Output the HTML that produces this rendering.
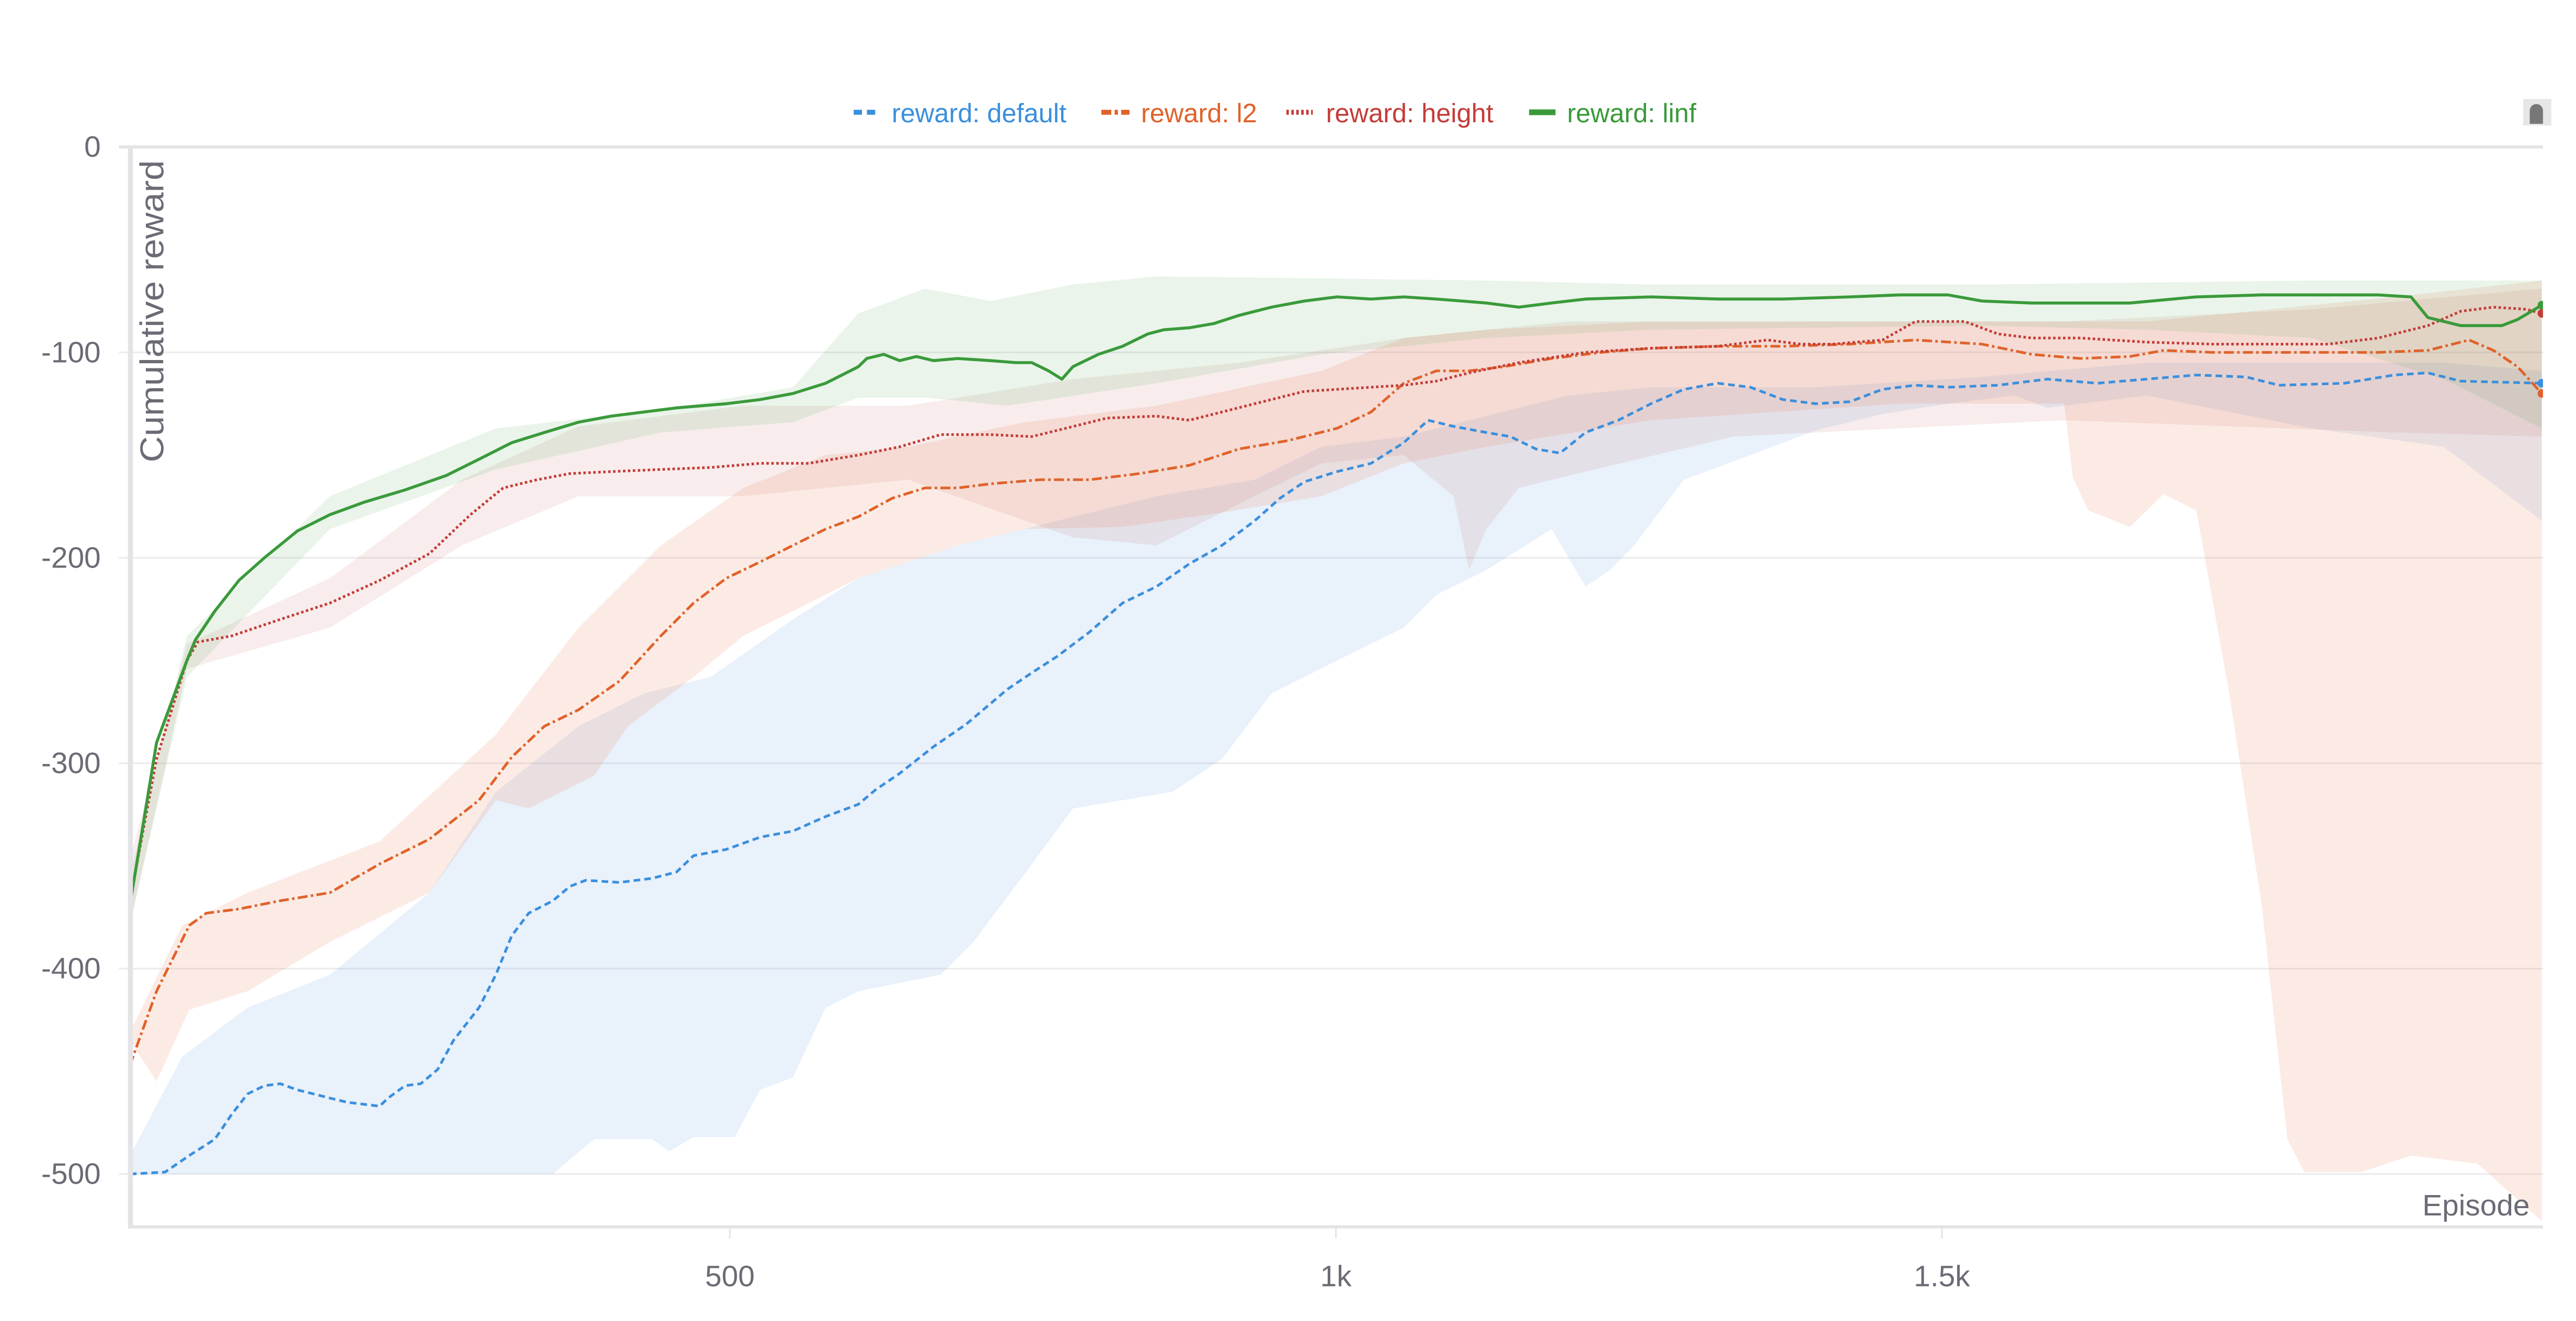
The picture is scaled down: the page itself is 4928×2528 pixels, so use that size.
<!DOCTYPE html>
<html><head><meta charset="utf-8">
<style>
html,body{margin:0;padding:0;background:#fff;}
svg{display:block;}
text{font-family:"Liberation Sans",sans-serif;}
</style></head>
<body>
<svg id="chart" width="4928" height="2528" viewBox="0 0 1560 800" preserveAspectRatio="none" xmlns="http://www.w3.org/2000/svg">
<defs><clipPath id="plotclip"><rect x="79" y="80" width="1461" height="663"/></clipPath></defs>
<g id="grid"></g>
<g id="bands" clip-path="url(#plotclip)"></g>
<g id="lines" clip-path="url(#plotclip)"></g>
<g id="axes"></g>
<g font-size="16">
  <g><line x1="517" y1="68" x2="533" y2="68" stroke="#3b8fdd" stroke-width="3" stroke-dasharray="5,3"/><text x="540" y="74" fill="#3b8fdd">reward: default</text></g>
  <g><line x1="667" y1="68" x2="684" y2="68" stroke="#e0622a" stroke-width="3" stroke-dasharray="6,2,2,2"/><text x="691" y="74" fill="#e0622a">reward: l2</text></g>
  <g><line x1="779" y1="68" x2="795" y2="68" stroke="#c43c39" stroke-width="3" stroke-dasharray="1.5,1.5"/><text x="803" y="74" fill="#c43c39">reward: height</text></g>
  <g><line x1="926" y1="68" x2="942" y2="68" stroke="#3a9a3a" stroke-width="3.5"/><text x="949" y="74" fill="#3a9a3a">reward: linf</text></g>
</g>
<g><rect x="1528" y="60" width="17" height="16" fill="#e6e6e6"/><path d="M1532 75 v-8 a4 4 0 0 1 8 0 v8 z" fill="#777"/></g>
<text transform="translate(99,280) rotate(-90)" font-size="20" textLength="183" lengthAdjust="spacingAndGlyphs" fill="#6b6b76">Cumulative reward</text>
<text x="1532" y="736" text-anchor="end" font-size="18" fill="#6b6b76">Episode</text>
</svg>
<script>
const yTicks=[0,-100,-200,-300,-400,-500];
const yTickLabels=["0","-100","-200","-300","-400","-500"];
const xTicks=[500,1000,1500];
const xTickLabels=["500","1k","1.5k"];
const seriesNames=["default","l2","height","linf"];

const defaultEp=[5,34,54,75,89,102,116,129,143,170,184,211,218,232,245,259,272,293,307,320,334,354,368,381,409,436,456,470,497,525,552,579,606,620,640,668,695,729,749,770,797,824,852,879,906,933,954,974,1001,1029,1056,1076,1097,1124,1144,1165,1185,1206,1233,1260,1287,1315,1342,1369,1396,1424,1451,1478,1505,1546,1587,1628,1669,1710,1751,1778,1832,1873,1901,1928,1995];
const defaultVal=[-500,-499,-491,-483,-471,-461,-457,-456,-459,-463,-465,-467,-463,-457,-456,-449,-435,-419,-403,-384,-373,-367,-360,-357,-358,-356,-353,-345,-342,-336,-333,-326,-320,-313,-305,-292,-281,-264,-256,-248,-236,-222,-214,-203,-194,-182,-171,-163,-158,-154,-144,-133,-136,-139,-141,-147,-149,-139,-133,-125,-118,-115,-117,-123,-125,-124,-118,-116,-117,-116,-113,-115,-113,-111,-112,-116,-115,-111,-110,-114,-115];

const l2Ep=[5,27,54,68,95,129,170,211,252,293,320,347,375,409,443,470,497,525,552,579,606,634,661,688,715,756,797,838,879,920,960,1001,1029,1056,1083,1110,1138,1178,1219,1260,1315,1369,1424,1478,1533,1574,1614,1655,1683,1723,1764,1805,1860,1901,1935,1955,1975,1995];
const l2Val=[-447,-411,-379,-373,-371,-367,-363,-349,-337,-318,-297,-282,-274,-260,-238,-222,-210,-202,-194,-186,-180,-171,-166,-166,-164,-162,-162,-159,-155,-147,-143,-137,-129,-115,-109,-109,-107,-103,-100,-98,-97,-97,-96,-94,-96,-101,-103,-102,-99,-100,-100,-100,-100,-99,-94,-99,-107,-120];

const heightEp=[5,27,52,61,89,129,170,211,252,286,313,341,368,402,443,484,525,565,606,640,674,715,749,777,811,852,879,906,933,974,1001,1029,1056,1083,1110,1151,1206,1260,1315,1356,1383,1410,1451,1478,1519,1546,1574,1614,1669,1723,1764,1819,1860,1901,1928,1955,1982,1995];
const heightVal=[-367,-298,-250,-241,-238,-230,-222,-211,-198,-179,-166,-162,-159,-158,-157,-156,-154,-154,-150,-146,-140,-140,-141,-137,-132,-131,-133,-129,-125,-119,-118,-117,-116,-114,-110,-105,-100,-98,-97,-94,-96,-96,-94,-85,-85,-91,-93,-93,-95,-96,-96,-96,-93,-87,-80,-78,-79,-81];

const linfEp=[5,27,52,59,75,95,116,143,170,198,232,266,293,320,347,375,402,429,456,497,525,552,579,606,613,627,640,654,668,688,715,736,749,763,774,783,804,824,845,858,879,899,920,947,974,1001,1029,1056,1083,1104,1124,1151,1178,1206,1260,1315,1369,1424,1465,1505,1533,1574,1614,1655,1710,1764,1805,1860,1887,1901,1928,1962,1975,1995];
const linfVal=[-369,-290,-250,-240,-226,-211,-200,-187,-179,-173,-167,-160,-152,-144,-139,-134,-131,-129,-127,-125,-123,-120,-115,-107,-103,-101,-104,-102,-104,-103,-104,-105,-105,-109,-113,-107,-101,-97,-91,-89,-88,-86,-82,-78,-75,-73,-74,-73,-74,-75,-76,-78,-76,-74,-73,-74,-74,-73,-72,-72,-75,-76,-76,-76,-73,-72,-72,-72,-73,-83,-87,-87,-84,-77];

const defaultUpEp=[5,48,102,170,252,307,375,429,484,552,606,688,770,852,933,988,1056,1124,1192,1260,1396,1533,1669,1805,1914,1995];
const defaultUp=[-491,-443,-419,-403,-363,-314,-282,-266,-258,-230,-210,-194,-182,-170,-162,-146,-141,-131,-121,-117,-117,-112,-105,-105,-105,-109];
const defaultLoEp=[5,354,388,436,450,470,504,525,552,579,606,640,674,701,743,783,824,865,906,947,1001,1056,1083,1124,1178,1206,1226,1246,1287,1342,1396,1451,1505,1560,1587,1669,1805,1914,1995];
const defaultLo=[-500,-500,-483,-483,-489,-482,-482,-459,-453,-419,-411,-407,-403,-387,-354,-322,-318,-314,-298,-266,-250,-234,-218,-206,-186,-214,-206,-194,-162,-150,-138,-130,-125,-121,-127,-121,-137,-146,-182];

const l2UpEp=[5,48,102,211,307,375,443,511,579,647,743,852,988,1056,1124,1260,1465,1669,1874,1995];
const l2Up=[-431,-379,-363,-338,-286,-234,-194,-166,-150,-146,-134,-126,-109,-93,-89,-85,-85,-85,-73,-65];
const l2LoEp=[5,27,54,102,170,252,307,334,388,416,470,511,552,606,688,743,824,906,988,1056,1124,1260,1465,1601,1608,1621,1655,1683,1710,1737,1764,1785,1799,1846,1887,1942,1995];
const l2Lo=[-435,-455,-420,-411,-387,-363,-318,-322,-306,-282,-258,-238,-226,-210,-194,-186,-185,-178,-170,-154,-146,-133,-125,-125,-161,-177,-185,-169,-177,-266,-370,-483,-499,-499,-491,-495,-523];

const heightUpEp=[5,52,170,279,375,511,647,783,920,1056,1192,1396,1601,1805,1995];
const heightUp=[-347,-242,-210,-162,-136,-126,-126,-113,-105,-93,-85,-85,-85,-79,-69];
const heightLoEp=[5,52,170,279,375,511,647,783,852,933,988,1056,1097,1110,1124,1151,1206,1328,1465,1601,1737,1874,1995];
const heightLo=[-379,-254,-234,-194,-170,-170,-162,-190,-194,-170,-154,-150,-170,-206,-186,-166,-158,-141,-137,-133,-136,-139,-141];

const linfUpEp=[5,52,170,307,443,552,606,661,715,783,852,988,1124,1260,1533,1805,1995];
const linfUp=[-355,-238,-170,-137,-128,-117,-81,-69,-75,-67,-63,-64,-65,-67,-67,-65,-65];
const linfLoEp=[5,52,170,307,443,552,606,661,729,852,988,1124,1260,1533,1669,1805,1914,1995];
const linfLo=[-378,-258,-186,-157,-139,-134,-122,-122,-126,-115,-101,-93,-89,-87,-89,-93,-113,-137];

const NS="http://www.w3.org/2000/svg";
function xScale(e){return 75+e*0.734;}
function yScale(r){return 89-r*1.244;}
function mk(tag,attrs,parent){const el=document.createElementNS(NS,tag);for(const k in attrs)el.setAttribute(k,attrs[k]);parent.appendChild(el);return el;}
const grid=document.getElementById('grid'),axes=document.getElementById('axes'),bands=document.getElementById('bands'),lines=document.getElementById('lines');

yTicks.forEach((v,i)=>{
  const y=yScale(v);
  const gl=mk('line',{x1:72,x2:1540,y1:y,y2:y,stroke:i===0?'#e4e4e6':'#ececee','stroke-width':i===0?2:1},grid);
  
  
  const t=mk('text',{x:61,y:y+6,'text-anchor':'end','font-size':18,fill:'#6b6b76'},axes);
  t.textContent=yTickLabels[i];
  
  
});
const ya=mk('line',{x1:79,x2:79,y1:89,y2:744,stroke:'#e4e4e6','stroke-width':3},axes);


const xa=mk('line',{x1:78,x2:1540,y1:743,y2:743,stroke:'#e4e4e6','stroke-width':2},axes);


xTicks.forEach((v,i)=>{
  const x=xScale(v);
  const tk=mk('line',{x1:x,x2:x,y1:743,y2:750,stroke:'#e4e4e6','stroke-width':1},axes);
  
  
  const t=mk('text',{x:x,y:779,'text-anchor':'middle','font-size':18,fill:'#6b6b76'},axes);
  t.textContent=xTickLabels[i];
  
  
});

function linePts(ep,val){return ep.map((e,i)=>xScale(e).toFixed(1)+','+yScale(val[i]).toFixed(1));}
function drawBand(upE,up,loE,lo,fill,name){
  const pts=linePts(upE,up).concat(linePts(loE,lo).reverse());
  const p=mk('polygon',{points:pts.join(' '),fill:fill},bands);
  
  
}
drawBand(defaultUpEp,defaultUp,defaultLoEp,defaultLo,'rgba(70,140,220,0.12)','band-default');
drawBand(l2UpEp,l2Up,l2LoEp,l2Lo,'rgba(235,120,80,0.15)','band-l2');
drawBand(heightUpEp,heightUp,heightLoEp,heightLo,'rgba(190,80,70,0.10)','band-height');
drawBand(linfUpEp,linfUp,linfLoEp,linfLo,'rgba(80,165,80,0.12)','band-linf');

function drawLine(ep,val,color,dash,w,name){
  const p=mk('polyline',{points:linePts(ep,val).join(' '),fill:'none',stroke:color,'stroke-width':w,'stroke-dasharray':dash,'stroke-linejoin':'round'},lines);
  
  
  const d=mk('circle',{cx:xScale(ep[ep.length-1]),cy:yScale(val[val.length-1]),r:2.6,fill:color},lines);
  
  
}
drawLine(defaultEp,defaultVal,'#3b8fdd','4,2.5',1.6,'line-default');
drawLine(l2Ep,l2Val,'#e0622a','6,2,1.5,2',1.6,'line-l2');
drawLine(heightEp,heightVal,'#c43c39','1.5,1.5',1.6,'line-height');
drawLine(linfEp,linfVal,'#3a9a3a','none',1.8,'line-linf');
</script>
</body></html>
